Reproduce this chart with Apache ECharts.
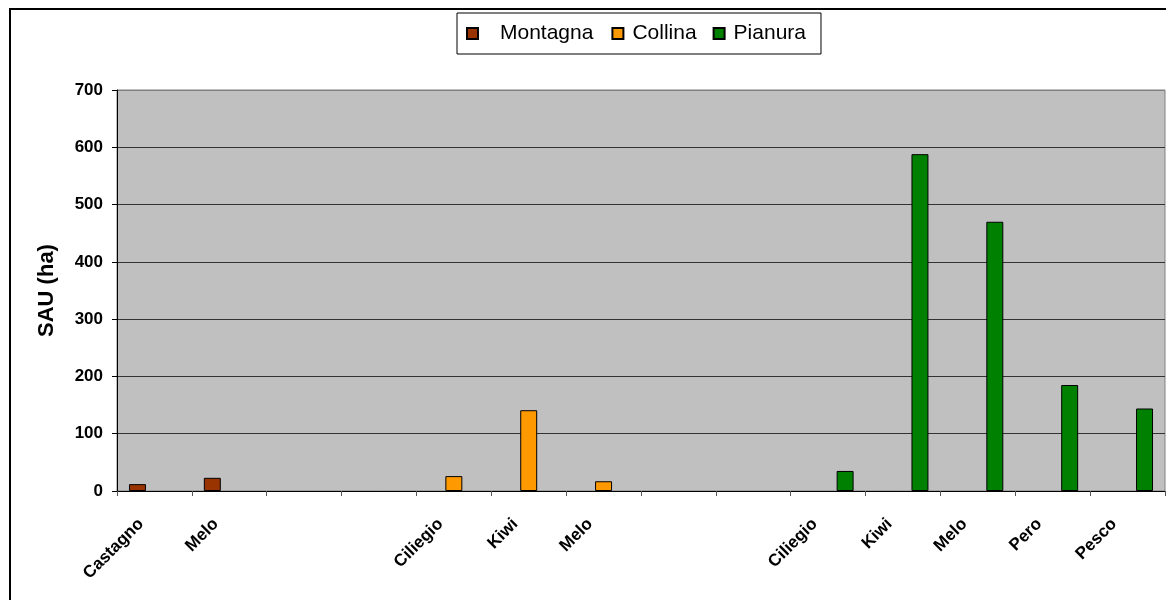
<!DOCTYPE html>
<html>
<head>
<meta charset="utf-8">
<title>SAU frutticola per zona altimetrica</title>
<script src="https://cdn.jsdelivr.net/npm/echarts@6/dist/echarts.min.js"></script>
<style>
  html, body { margin: 0; padding: 0; background: #fff; }
  #chart { width: 1166px; height: 600px; }
</style>
</head>
<body>
<div id="chart"></div>
<script>
// Crop names along the x axis; empty slots separate the three altitude zones
const categories = ['Castagno', 'Melo', '', '', 'Ciliegio', 'Kiwi', 'Melo', '', '', 'Ciliegio', 'Kiwi', 'Melo', 'Pero', 'Pesco'];

// SAU (ha) by zone, one value per category slot
const montagna = [12, 23, null, null, null, null, null, null, null, null, null, null, null, null];
const collina  = [null, null, null, null, 26, 141, 17, null, null, null, null, null, null, null];
const pianura  = [null, null, null, null, null, null, null, null, null, 35, 588, 470, 185, 144];

const seriesNames = ['Montagna', 'Collina', 'Pianura'];
const yTicks = { min: 0, max: 700, step: 100 };

const chart = echarts.init(document.getElementById('chart'), null, { renderer: 'canvas' });

const font = 'Liberation Sans, Arial, sans-serif';

const barSeries = (name, data, color) => ({
  name: name,
  type: 'bar',
  data: data,
  barGap: '0%',
  barCategoryGap: '32%',
  itemStyle: { color: color, borderColor: '#000', borderWidth: 1 }
});

// the top gridline doubles as the plot frame, so it is grey like the frame
const gridColors = [];
for (let v = yTicks.min; v <= yTicks.max; v += yTicks.step) {
  gridColors.push(v === yTicks.max ? '#808080' : '#333333');
}

chart.setOption({
  animation: false,
  backgroundColor: '#ffffff',
  textStyle: { fontFamily: font },
  graphic: [{
    type: 'rect',
    shape: { x: 10, y: 9, width: 1200, height: 700 },
    style: { fill: 'none', stroke: '#000', lineWidth: 2 },
    silent: true
  }],
  legend: {
    left: 457,
    top: 13,
    orient: 'horizontal',
    padding: [10, 15, 10, 9],
    itemGap: 0,
    itemWidth: 11,
    itemHeight: 11,
    borderColor: '#000',
    borderWidth: 1,
    backgroundColor: '#fff',
    icon: 'rect',
    textStyle: { fontFamily: font, fontSize: 21, color: '#000', lineHeight: 20 },
    data: [
      { name: seriesNames[0], textStyle: { padding: [0, 18, 0, 17] } },
      { name: seriesNames[1], textStyle: { padding: [0, 16, 0, 4] } },
      { name: seriesNames[2], textStyle: { padding: [0, 0, 0, 4] } }
    ]
  },
  grid: {
    left: 117,
    right: 1,
    top: 90,
    bottom: 109,
    show: true,
    backgroundColor: '#C0C0C0',
    borderColor: '#808080',
    borderWidth: 1
  },
  xAxis: {
    type: 'category',
    data: categories,
    axisLine: { show: true, lineStyle: { color: '#000', width: 1 } },
    axisTick: { show: true, length: 5, lineStyle: { color: '#555' } },
    axisLabel: {
      interval: 0,
      rotate: 45,
      margin: 17,
      padding: [0, 19, 0, 0],
      fontFamily: font,
      fontSize: 17,
      fontWeight: 'bold',
      color: '#000'
    },
    splitLine: { show: false }
  },
  yAxis: {
    type: 'value',
    min: yTicks.min,
    max: yTicks.max,
    interval: yTicks.step,
    name: 'SAU (ha)',
    nameLocation: 'middle',
    nameGap: 59,
    nameTextStyle: { fontFamily: font, fontSize: 22, fontWeight: 'bold', color: '#000', lineHeight: 22 },
    axisLine: { show: true, lineStyle: { color: '#000', width: 1 } },
    axisTick: { show: true, length: 5, lineStyle: { color: '#000' } },
    axisLabel: { margin: 14, fontFamily: font, fontSize: 17, fontWeight: 'bold', color: '#000' },
    splitLine: { show: true, lineStyle: { color: gridColors, width: 1 } }
  },
  series: [
    barSeries(seriesNames[0], montagna, '#993300'),
    barSeries(seriesNames[1], collina, '#FF9900'),
    barSeries(seriesNames[2], pianura, '#008000')
  ]
});
</script>
</body>
</html>
